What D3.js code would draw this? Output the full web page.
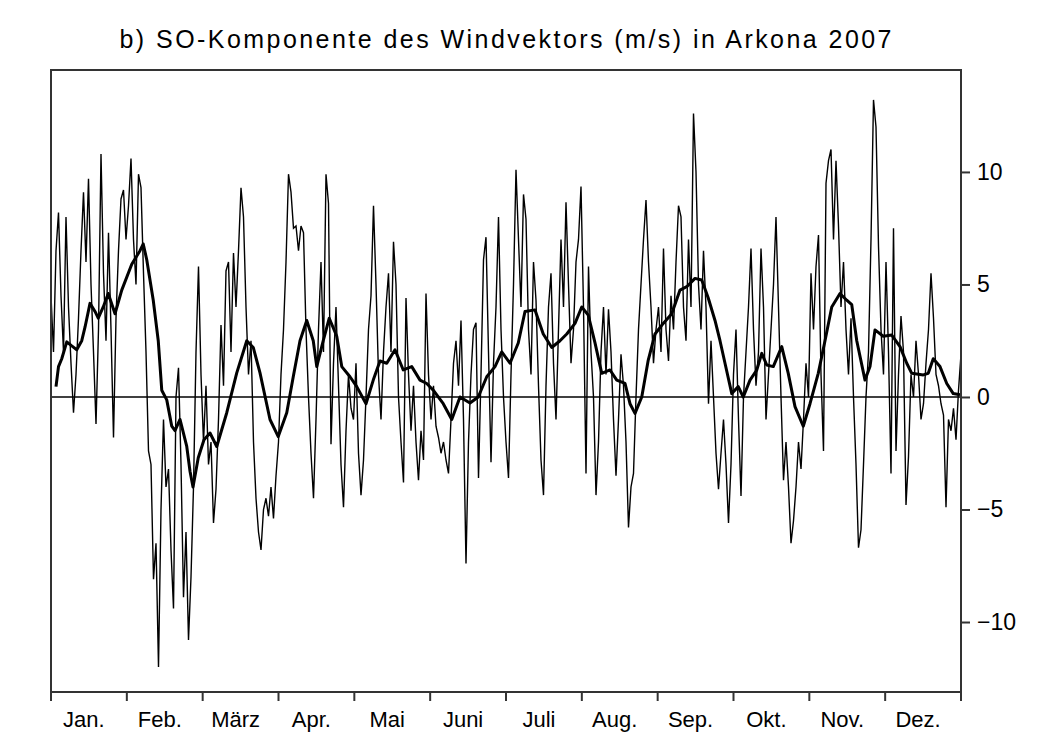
<!DOCTYPE html>
<html><head><meta charset="utf-8">
<script src="https://cdn.jsdelivr.net/npm/d3@7"></script>
<style>
html,body{margin:0;padding:0;background:#fff;}
text{font-family:"Liberation Sans",Arial,Helvetica,sans-serif;fill:#000;}
</style></head>
<body>
<script>
const title = "b) SO-Komponente des Windvektors (m/s) in Arkona 2007";
const months = ["Jan.","Feb.","März","Apr.","Mai","Juni","Juli","Aug.","Sep.","Okt.","Nov.","Dez."];
const yTicks = [10, 5, 0, -5, -10];

// daily SO wind component (m/s), day 0 .. 364
const dailyJan = [4.5,2,6.5,8.2,4.5,2,8.0,4,1.5,-0.7,1.0,3.5,6.5,9.1,6,9.7,5,2,-1.2,3,10.8,5.5,2.5,7.3,3,-1.8,3.5,6.5,8.8,9.2,7];
const dailyFeb = [8.5,10.6,7,5,9.9,9.3,5.5,2,-2.4,-3,-8.1,-6.5,-12.0,-5,-1,-4,-3.2,-6.8,-9.4,0,1.3,-3,-8.9,-6,-10.8,-8,-4,2];
const dailyMar = [5.8,1,-2,0.5,-3,-2,-5.6,-4.1,-1,3.2,0.5,5.6,6.0,2,6.4,4,6.5,9.3,8.0,4,1,2.5,-2,-4.5,-6.0,-6.8,-5,-4.5,-5.3,-4.0,-5.4];
const dailyApr = [-3.5,-2,1,3,6,9.9,9.1,7.5,7.6,6.5,7.6,7.3,3,0,-2.5,-4.5,-1,3,6,2,9.9,8.6,-2.1,1.5,4,0.5,-3,-4.9,-1.5,1];
const dailyMay = [-0.5,-1,1.5,-2.5,-4.36,-2.8,0,3,4.5,8.5,5,1,-1,2,4,5.5,2,6.9,5,0,-2,-3.8,4.4,1,-1.5,0.5,-2,-3.7,-1.5,-2.8,4.6];
const dailyJun = [1,-1,0.5,-1.3,-1.8,-2.5,-2.0,-2.8,-3.4,-1,1.5,2.5,0.5,3.4,-1,-7.4,-2,1,3.0,3.3,-3.6,1,6.1,7.1,2,-2.9,1.5,4,8.0,3];
const dailyJul = [0,-2,-3.6,1,5,10.1,7,4,9.0,7.9,3,1,6,4.3,0.5,-2.8,-4.36,0.5,4,5.5,1.5,-1,3,7,4,8.65,5,1.5,3,6,7];
const dailyAug = [9.35,4,-3.4,5.8,2,0,-4.36,-2,2,4,1,3.9,2,-1,-3.5,-1,1.9,0.5,-2,-5.8,-4,-3.4,0,3,5,7,8.75,6,4,1.5,3];
const dailySep = [4,2,6.6,3,1.6,4.5,3,6,8.5,8.0,4,2.5,7.0,4,12.6,10.0,5,3,6.5,4,-0.3,2.5,0,-2.5,-4.1,-2.5,-1,-3,-5.6,-3];
const dailyOct = [1,3,-1,-4.4,0,2,4,6.6,3,0.5,2,6.6,4,-1.0,1,3,5,8.0,4,0,-3.7,-2,-4,-6.5,-5.5,-4,-2,-3.2,-1,1.5,0];
const dailyNov = [5.5,3,5.8,7.2,1,-2.4,9.5,10.5,11.0,7,10.5,7.6,4,6,3,1,3.5,0,-3,-6.7,-5.9,-3,0,2,7,13.2,12.0,6.7,3,1];
const dailyDec = [6,2,-3.4,7.5,-2.4,1,3.6,2,-4.8,-2.65,1,0,2.5,1,-1.0,-0.3,1.5,3,5.5,3.5,1,0.5,-0.3,-0.8,-4.9,-1,-1.5,-0.5,-1.9,0.3,1.9];

// smoothed curve (thick line): day of year and value
const smoothDay = [2,3,4.3,6.3,8.3,10.3,12.3,13.6,15.6,17.6,18.9,20.9,22.9,25.6,28.3,32.3,35.6,36.9,38.3,40.9,42.9,44.3,46.3,48.3,49.6,51.6,54.3,55.6,56.8,58.9,61.2,63.6,66.3,70.3,74.3,78.3,80.9,83.6,87.6,90.9,94.3,96.9,99.6,102.3,104.9,106.3,108.9,111.3,114.3,116.3,119.6,122.3,126,128.9,131.6,134.3,137.6,140.9,144.3,147.6,150.3,152.9,156.9,160.3,163.6,167.6,170.9,174.3,177.6,180.3,183.6,186.9,189.6,193.6,196.9,200.3,203.6,206.3,209.6,212.3,214.9,217.6,220.3,223.6,226.3,229.6,231.6,233.6,236.3,238.9,241.6,244.9,248.3,251.6,254.3,257.6,260.3,262.9,265.6,267.6,269.6,272.3,274.9,276.9,279.6,282.3,284.3,286.3,288.9,292.3,294.9,297.6,300.9,303.6,306.9,309.6,312.3,315.6,318.3,320.3,322.3,325.6,327.6,329.6,332.9,336.3,339.6,342.3,344.3,348.9,350.9,352.9,355.6,358.3,360.9,363.6];
const smoothValue = [0.46,1.35,1.7,2.45,2.27,2.1,2.5,3.1,4.16,3.8,3.5,4.0,4.6,3.7,4.75,5.9,6.5,6.8,6.1,4.3,2.5,0.3,-0.13,-1.3,-1.5,-1.0,-2.2,-3.3,-4.0,-2.7,-1.9,-1.6,-2.2,-0.7,1.07,2.5,2.2,1.07,-1.0,-1.76,-0.7,0.9,2.5,3.4,2.5,1.35,2.5,3.5,2.7,1.35,0.9,0.46,-0.3,0.75,1.6,1.5,2.1,1.2,1.35,0.75,0.6,0.3,-0.3,-1.0,0,-0.27,0,0.9,1.35,2.0,1.5,2.4,3.8,3.87,2.8,2.2,2.5,2.8,3.27,4.0,3.64,2.4,1.05,1.2,0.75,0.6,-0.3,-0.73,0,1.64,2.8,3.27,3.7,4.75,4.9,5.27,5.2,4.4,3.4,2.5,1.5,0.15,0.46,0,0.75,1.2,1.94,1.42,1.35,2.24,1.05,-0.43,-1.3,-0.3,1.05,2.5,4.0,4.6,4.3,4.1,2.5,0.75,1.35,2.98,2.7,2.75,2.24,1.5,1.05,0.98,1.05,1.7,1.35,0.6,0.15,0.1];

const daily = [].concat(dailyJan,dailyFeb,dailyMar,dailyApr,dailyMay,dailyJun,dailyJul,dailyAug,dailySep,dailyOct,dailyNov,dailyDec);

const W = 1050, H = 756;
const L = 51, R = 961, T = 70, B = 692;

const svg = d3.select("body").append("svg").attr("width", W).attr("height", H);
svg.append("rect").attr("width", W).attr("height", H).attr("fill", "#fff");

const x = d3.scaleLinear().domain([0, daily.length - 1]).range([L, R]);
const y = d3.scaleLinear().domain([-13.11, 14.53]).range([B, T]);
const xm = d3.scaleBand().domain(months).range([L, R]).padding(0);

// title
svg.append("text").attr("x", 505.5).attr("y", 48).attr("text-anchor", "middle")
  .attr("textLength", 772).attr("lengthAdjust", "spacing")
  .style("font-size", "25px").text(title);

// zero line
svg.append("line").attr("x1", L).attr("x2", R).attr("y1", y(0)).attr("y2", y(0))
  .attr("stroke", "#000").attr("stroke-width", 1.5);

// thin daily line
svg.append("path").datum(daily)
  .attr("fill", "none").attr("stroke", "#000").attr("stroke-width", 1.4)
  .attr("d", d3.line().x((d, i) => x(i)).y(d => y(d)));

// thick smoothed line
svg.append("path").datum(smoothDay.map((d, i) => [d, smoothValue[i]]))
  .attr("fill", "none").attr("stroke", "#000").attr("stroke-width", 3).attr("stroke-linejoin", "round")
  .attr("d", d3.line().x(d => x(d[0])).y(d => y(d[1])));

// frame
svg.append("rect").attr("x", L).attr("y", T).attr("width", R - L).attr("height", B - T)
  .attr("fill", "none").attr("stroke", "#333").attr("stroke-width", 2);

// right axis
const yAxis = svg.append("g").attr("transform", `translate(${R},0)`)
  .call(d3.axisRight(y).tickValues(yTicks).tickSize(9).tickPadding(7).tickFormat(d => d < 0 ? "\u2212" + Math.abs(d) : d));
yAxis.select(".domain").remove();
yAxis.selectAll("line").attr("stroke", "#333").attr("stroke-width", 2);
yAxis.selectAll("text").style("font-size", "23px").attr("fill", "#000").attr("font-family", null);

// bottom axis: month ticks at boundaries, labels centered
const edges = months.map(m => xm(m)).concat([R]);
svg.append("g").selectAll("line").data(edges).join("line")
  .attr("x1", d => d).attr("x2", d => d).attr("y1", B).attr("y2", B + 9)
  .attr("stroke", "#333").attr("stroke-width", 2);
svg.append("g").selectAll("text").data(months).join("text")
  .attr("x", d => xm(d) + xm.bandwidth() / 2 - 5).attr("y", 727)
  .attr("text-anchor", "middle").style("font-size", "22px").text(d => d);
</script>
</body></html>
